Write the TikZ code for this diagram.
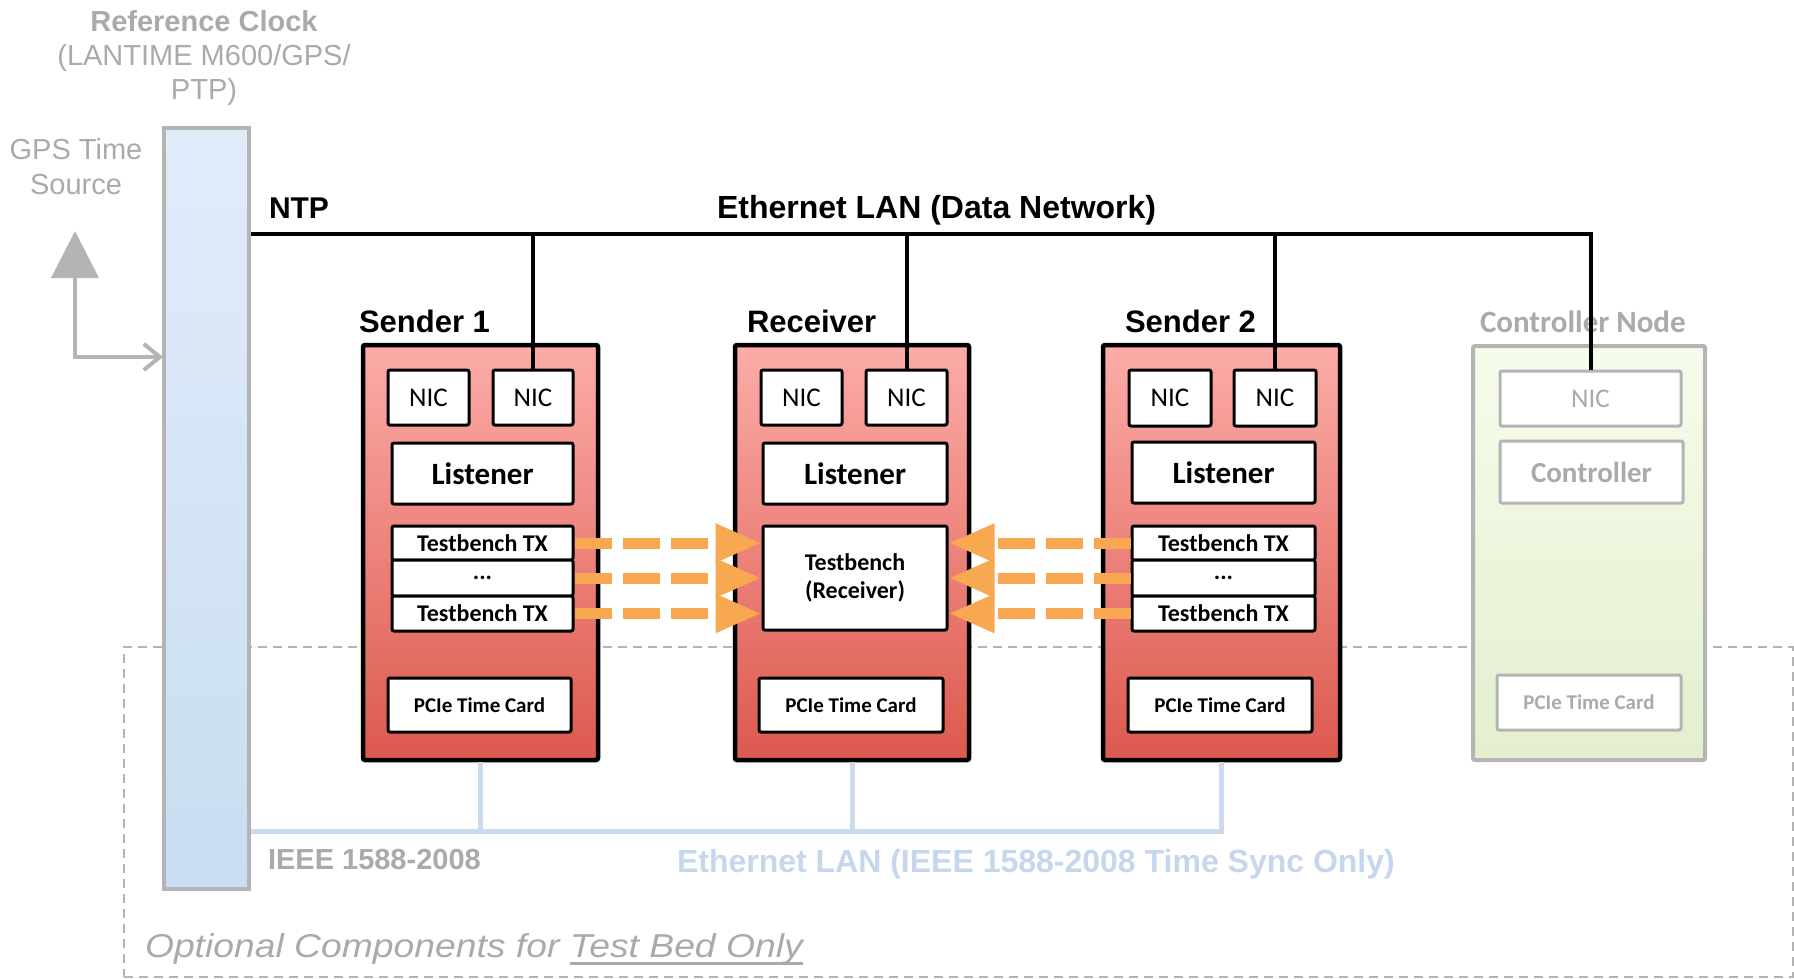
\documentclass[tikz,border=0pt]{standalone}
\usepackage{fontspec}
\setmainfont{Liberation Sans}
\newfontfamily\calfont{Carlito}
\newfontfamily\widefont[FakeStretch=1.13]{Liberation Sans}
\usetikzlibrary{arrows.meta}

\definecolor{txtgray}{RGB}{170,170,170}
\definecolor{edgegray}{RGB}{180,180,180}
\definecolor{syncblue}{RGB}{202,219,238}
\definecolor{synctext}{RGB}{198,214,236}
\definecolor{redtop}{RGB}{252,172,168}
\definecolor{redbot}{RGB}{220,89,78}
\definecolor{bluetop}{RGB}{225,236,250}
\definecolor{bluebot}{RGB}{200,221,242}
\definecolor{greentop}{RGB}{246,252,235}
\definecolor{greenbot}{RGB}{227,239,206}
\definecolor{flow}{RGB}{249,168,82}

\newcommand\fsz[2]{\fontsize{#1}{#2}\selectfont}
\newsavebox\ulbox
\newcommand\ulbed[1]{\sbox\ulbox{#1}\rlap{\rule[-0.24em]{\wd\ulbox}{0.08em}}\usebox\ulbox}

\begin{document}
\begin{tikzpicture}[x=0.5pt, y=-0.5pt,
  % a rectangle given by its corners (x1,y1) and (x2,y2)
  span/.style n args={4}{at={({(#1+#3)/2},{(#2+#4)/2})},
    minimum width={(#3-#1)*0.5pt}, minimum height={(#4-#2)*0.5pt}},
  lbl/.style={inner sep=0pt, outer sep=0pt},
  host/.style={draw=black, line width=2.25pt, rounded corners=1pt,
    top color=redtop, bottom color=redbot, inner sep=0pt},
  ctrlhost/.style={draw=edgegray, line width=2pt, rounded corners=1pt,
    top color=greentop, bottom color=greenbot, inner sep=0pt},
  clockbar/.style={draw=edgegray, line width=2pt,
    top color=bluetop, bottom color=bluebot, inner sep=0pt},
  part/.style={draw=black, line width=1.5pt, fill=white, rounded corners=1pt,
    inner sep=0pt, align=center},
  gpart/.style={draw=edgegray, line width=1.5pt, fill=white, rounded corners=1pt,
    inner sep=0pt, align=center, text=txtgray},
  nicf/.style={font=\calfont\fsz{13.5}{16}},
  lisf/.style={font=\calfont\bfseries\fsz{15.5}{18}},
  tbf/.style={font=\calfont\bfseries\fsz{12}{14}},
  pcif/.style={font=\calfont\bfseries\fsz{10.5}{12}},
  hostlabel/.style={lbl, anchor=base west, font=\bfseries\fsz{15.5}{18}},
  lan/.style={line width=2pt, draw=black},
  sync/.style={line width=2.5pt, draw=syncblue},
  flowarrow/.style={line width=5.5pt, draw=flow, dash pattern=on 18.5pt off 5.5pt,
    -{Triangle[length=23pt,width=18pt]}},
  optbox/.style={draw=edgegray, line width=0.8pt, dash pattern=on 4.5pt off 3pt,
    inner sep=0pt}
]
\useasboundingbox (0,0) rectangle (1794,979);

% region of optional test bed parts
\node[optbox, span={124}{647}{1793}{977}] (optional) {};

% reference clock and GPS source
\node[clockbar, span={164}{128}{249}{889}] (clock) {};
\node[lbl, text=txtgray, align=center, font=\fsz{14.5}{17}] (clocklabel) at (204,58)
  {\textbf{Reference Clock}\\(LANTIME M600/GPS/\\PTP)};
\node[lbl, text=txtgray, align=center, font=\fsz{14.5}{17.5}] (gps) at (76,167)
  {GPS Time\\Source};
\coordinate (gpstip) at (75,231);
\coordinate (gpsin) at (163,357);
\draw[line width=2pt, draw=edgegray,
  {Triangle[length=23.5pt,width=23.5pt]}-{Straight Barb[length=8pt,width=13pt]}]
  (gpstip) |- (gpsin);

% Sender 1
\node[host, span={363}{345}{598}{760}] (s1) {};
\node[part, nicf, span={388}{370}{469}{425}] (s1nica) {NIC};
\node[part, nicf, span={493}{370}{573}{425}] (s1nicb) {NIC};
\node[part, lisf, span={392}{443}{573}{504}] (s1lis) {Listener};
\node[part, tbf, span={392}{526}{573}{560}] (s1txa) {Testbench TX};
\node[part, tbf, span={392}{560}{573}{596}] (s1txb) {...};
\node[part, tbf, span={392}{596}{573}{631}] (s1txc) {Testbench TX};
\node[part, pcif, span={388}{678}{571}{732}] (s1pci) {PCIe Time Card};
\node[hostlabel] (s1label) at (359,332) {Sender 1};

% Receiver
\node[host, span={735}{345}{969}{760}] (rx) {};
\node[part, nicf, span={761}{370}{842}{425}] (rxnica) {NIC};
\node[part, nicf, span={866}{370}{947}{425}] (rxnicb) {NIC};
\node[part, lisf, span={763}{443}{947}{504}] (rxlis) {Listener};
\node[part, tbf, span={763}{526}{947}{630}] (rxtb) {Testbench\\(Receiver)};
\node[part, pcif, span={759}{678}{943}{732}] (rxpci) {PCIe Time Card};
\node[hostlabel] (rxlabel) at (747,332) {Receiver};

% Sender 2
\node[host, span={1103}{345}{1340}{760}] (s2) {};
\node[part, nicf, span={1129}{370}{1211}{426}] (s2nica) {NIC};
\node[part, nicf, span={1234}{370}{1316}{426}] (s2nicb) {NIC};
\node[part, lisf, span={1132}{442}{1315}{503}] (s2lis) {Listener};
\node[part, tbf, span={1132}{526}{1315}{560}] (s2txa) {Testbench TX};
\node[part, tbf, span={1132}{560}{1315}{596}] (s2txb) {...};
\node[part, tbf, span={1132}{596}{1315}{631}] (s2txc) {Testbench TX};
\node[part, pcif, span={1128}{678}{1312}{732}] (s2pci) {PCIe Time Card};
\node[hostlabel] (s2label) at (1125,332) {Sender 2};

% Controller node
\node[ctrlhost, span={1473}{346}{1705}{760}] (ctrl) {};
\node[gpart, nicf, span={1500}{371}{1681}{426}] (cnic) {NIC};
\node[gpart, font=\calfont\bfseries\fsz{14.5}{17}, span={1500}{441}{1683}{503}] (cctl) {Controller};
\node[gpart, pcif, span={1497}{675}{1681}{730}] (cpci) {PCIe Time Card};
\node[lbl, anchor=base west, text=txtgray, font=\calfont\bfseries\fsz{15.5}{18}] (ctrllabel)
  at (1480,332) {Controller Node};

% network labels
\node[lbl, anchor=base west, font=\bfseries\fsz{15}{18}] (ntp) at (269,218) {NTP};
\node[lbl, anchor=base west, font=\bfseries\fsz{16}{19}] (lanlabel) at (717,218)
  {Ethernet LAN (Data Network)};
\node[lbl, anchor=base west, text=txtgray, font=\bfseries\fsz{14.5}{17}] (ptplabel)
  at (268,869) {IEEE 1588-2008};
\node[lbl, anchor=base west, text=synctext, font=\bfseries\fsz{16}{19}] (synclabel)
  at (677,872) {Ethernet LAN (IEEE 1588-2008 Time Sync Only)};
\node[lbl, anchor=base west, text=txtgray, font=\widefont\itshape\fsz{16.5}{19}] (optlabel)
  at (145,957) {Optional Components for \ulbed{Test Bed Only}};

% data network
\coordinate (lanbus) at (0,234);
\draw[lan] (clock.east |- lanbus) -- (cnic.north |- lanbus) -- (cnic.north);
\draw[lan] (s1nicb.north) -- (s1nicb.north |- lanbus);
\draw[lan] (rxnicb.north) -- (rxnicb.north |- lanbus);
\draw[lan] (s2nicb.north) -- (s2nicb.north |- lanbus);

% time sync network
\coordinate (syncbus) at (0,831);
\draw[sync] (clock.east |- syncbus) -- (s2.south |- syncbus) -- (s2.south);
\draw[sync] (s1.south) -- (s1.south |- syncbus);
\draw[sync] (rx.south) -- (rx.south |- syncbus);

% test traffic
\draw[flowarrow] (s1txa.east) -- (s1txa.east -| rxtb.west);
\draw[flowarrow] (s1txb.east) -- (s1txb.east -| rxtb.west);
\draw[flowarrow] (s1txc.east) -- (s1txc.east -| rxtb.west);
\draw[flowarrow] (s2txa.west) -- (s2txa.west -| rxtb.east);
\draw[flowarrow] (s2txb.west) -- (s2txb.west -| rxtb.east);
\draw[flowarrow] (s2txc.west) -- (s2txc.west -| rxtb.east);
\end{tikzpicture}
\end{document}
